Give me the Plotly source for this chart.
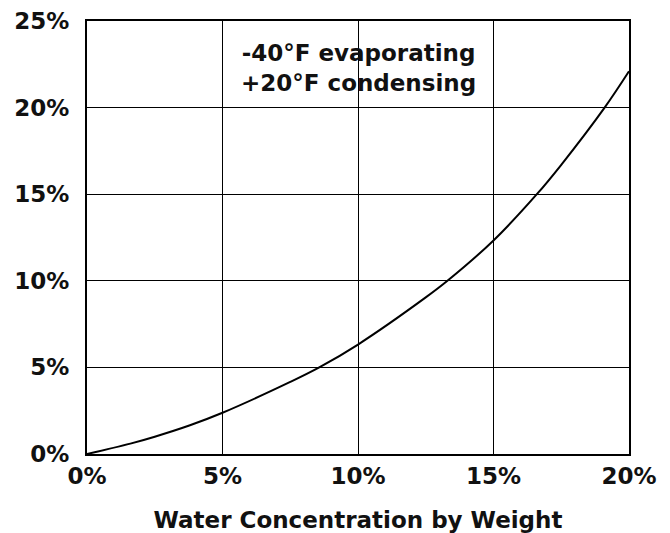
import plotly.graph_objects as go

# Data
water_pct = [0, 1.6, 2.5, 3.8, 5, 7.5, 8.57, 10, 12.5, 13.3, 15, 16.6, 17.5, 19.1, 20]
capacity_loss_pct = [0, 0.60, 1.0, 1.66, 2.38, 4.16, 5.0, 6.32, 9.04, 10.0, 12.33, 15.0, 16.7, 20.0, 22.1]

x_ticks = [0, 5, 10, 15, 20]
y_ticks = [0, 5, 10, 15, 20, 25]

x_title = "Water Concentration by Weight"
note_text = "-40°F evaporating<br>+20°F condensing"

font_family = "DejaVu Sans, Liberation Sans, Arial, sans-serif"

fig = go.Figure()
fig.add_trace(go.Scatter(
    x=water_pct, y=capacity_loss_pct, mode="lines",
    line=dict(color="black", width=2, shape="spline", smoothing=1.0),
    hoverinfo="skip", showlegend=False,
))

fig.add_annotation(
    x=10, y=22.3, xref="x", yref="y", text=note_text, showarrow=False,
    font=dict(family=font_family, size=23, color="#111", weight="bold"),
    align="center",
)

fig.update_layout(
    width=670, height=533,
    margin=dict(l=87, r=41, t=21, b=79, autoexpand=False),
    paper_bgcolor="white", plot_bgcolor="white",
    font=dict(family=font_family, color="#111", weight="bold"),
    xaxis=dict(
        range=[0, 20], tickvals=x_ticks, ticktext=[f"{v}%" for v in x_ticks],
        showgrid=True, gridcolor="black", gridwidth=1.3,
        showline=True, linecolor="black", linewidth=2, mirror=True,
        zeroline=False, ticks="", ticklabelstandoff=0, automargin=False,
        tickfont=dict(size=23, family=font_family, weight="bold"),
        title=dict(text=x_title, standoff=30,
                   font=dict(size=23, family=font_family, weight="bold")),
    ),
    yaxis=dict(
        range=[0, 25], tickvals=y_ticks, ticktext=[f"{v}%" for v in y_ticks],
        showgrid=True, gridcolor="black", gridwidth=1.3,
        showline=True, linecolor="black", linewidth=2, mirror=True,
        zeroline=False, ticks="", ticklabelstandoff=11, automargin=False,
        tickfont=dict(size=23, family=font_family, weight="bold"),
    ),
)

fig.write_html(
    "out.html",
    config={"displayModeBar": False},
    post_script="document.body.style.margin='0';document.body.style.overflow='hidden';",
)
